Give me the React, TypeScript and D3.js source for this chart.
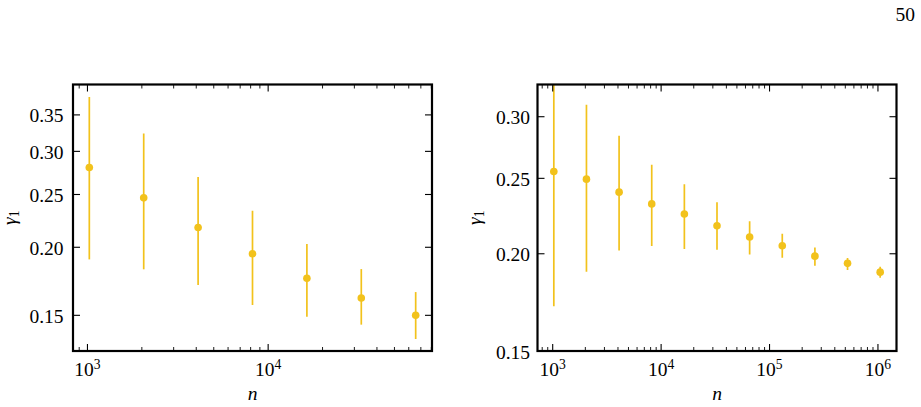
import React from "react";
import * as d3 from "d3";

// γ1 estimates vs. system size n with lower/upper error bounds, two runs
const N_LEFT = [1024, 2048, 4096, 8192, 16384, 32768, 65536];
const GAMMA_LEFT = [0.2802, 0.2465, 0.2175, 0.1946, 0.1754, 0.1614, 0.15];
const LOW_LEFT = [0.19, 0.1822, 0.1705, 0.1567, 0.1491, 0.1442, 0.1357];
const HIGH_LEFT = [0.3776, 0.3237, 0.2691, 0.2335, 0.2027, 0.1824, 0.1655];

const N_RIGHT = [1024, 2048, 4096, 8192, 16384, 32768, 65536, 131072, 262144, 524288, 1048576];
const GAMMA_RIGHT = [0.2551, 0.2494, 0.24, 0.2318, 0.225, 0.2173, 0.2102, 0.2048, 0.1986, 0.1944, 0.1894];
const LOW_RIGHT = [0.1712, 0.1896, 0.202, 0.2047, 0.2028, 0.2024, 0.1996, 0.1976, 0.193, 0.1906, 0.1863];
const HIGH_RIGHT = [0.339, 0.3109, 0.2836, 0.2602, 0.2457, 0.233, 0.2202, 0.2122, 0.2038, 0.1975, 0.1924];

const YTICKS_LEFT = [0.15, 0.2, 0.25, 0.3, 0.35];
const YTICKS_RIGHT = [0.15, 0.2, 0.25, 0.3];
const YDOMAIN_LEFT: [number, number] = [0.129, 0.398];
const YDOMAIN_RIGHT: [number, number] = [0.15, 0.33];

const PAGE_NUMBER = "50";

const COLOR = "#f2c21c";
const FS = 19.5;
const TEXT_STYLE: React.CSSProperties = {
  fontFamily: '"Liberation Serif", "DejaVu Serif", "Times New Roman", Times, serif',
  fontSize: FS,
};

type PanelProps = {
  id: string;
  x0: number;
  x1: number;
  y0: number;
  y1: number;
  ns: number[];
  vals: number[];
  lows: number[];
  highs: number[];
  yTicks: number[];
  yDomain: [number, number];
  labelGap: number;
  yLabelX: number;
};

// x limits: data range padded by 5% in log space
function logPadded(ns: number[]): [number, number] {
  const lo = Math.log10(d3.min(ns)!);
  const hi = Math.log10(d3.max(ns)!);
  const pad = (hi - lo) * 0.05;
  return [Math.pow(10, lo - pad), Math.pow(10, hi + pad)];
}

function Panel(p: PanelProps) {
  const xs = d3.scaleLog().domain(logPadded(p.ns)).range([p.x0, p.x1]);
  const ys = d3.scaleLog().domain(p.yDomain).range([p.y1, p.y0]);
  const [dlo, dhi] = xs.domain();
  const major: number[] = [];
  const minor: number[] = [];
  for (let e = Math.floor(Math.log10(dlo)); e <= Math.ceil(Math.log10(dhi)); e++) {
    for (let m = 1; m <= 9; m++) {
      const v = m * Math.pow(10, e);
      if (v < dlo || v > dhi) continue;
      (m === 1 ? major : minor).push(v);
    }
  }
  const majLen = 7;
  const minLen = 4;
  const cx = (p.x0 + p.x1) / 2;
  const cy = (p.y0 + p.y1) / 2;
  return (
    <g>
      <defs>
        <clipPath id={p.id}>
          <rect x={p.x0} y={p.y0} width={p.x1 - p.x0} height={p.y1 - p.y0} />
        </clipPath>
      </defs>
      <g clipPath={`url(#${p.id})`}>
        {p.ns.map((n, i) => (
          <g key={n}>
            <line
              x1={xs(n)}
              x2={xs(n)}
              y1={ys(p.lows[i])}
              y2={ys(p.highs[i])}
              stroke={COLOR}
              strokeWidth={1.7}
            />
            <circle cx={xs(n)} cy={ys(p.vals[i])} r={3.8} fill={COLOR} />
          </g>
        ))}
      </g>
      {/* inward ticks on all four sides */}
      {major.map((v) => (
        <g key={"M" + v} stroke="#000" strokeWidth={1.1}>
          <line x1={xs(v)} x2={xs(v)} y1={p.y1} y2={p.y1 - majLen} />
          <line x1={xs(v)} x2={xs(v)} y1={p.y0} y2={p.y0 + majLen} />
        </g>
      ))}
      {minor.map((v) => (
        <g key={"m" + v} stroke="#000" strokeWidth={0.9}>
          <line x1={xs(v)} x2={xs(v)} y1={p.y1} y2={p.y1 - minLen} />
          <line x1={xs(v)} x2={xs(v)} y1={p.y0} y2={p.y0 + minLen} />
        </g>
      ))}
      {p.yTicks.map((v) => (
        <g key={"y" + v} stroke="#000" strokeWidth={1.1}>
          <line x1={p.x0} x2={p.x0 + majLen} y1={ys(v)} y2={ys(v)} />
          <line x1={p.x1} x2={p.x1 - majLen} y1={ys(v)} y2={ys(v)} />
        </g>
      ))}
      <rect
        x={p.x0}
        y={p.y0}
        width={p.x1 - p.x0}
        height={p.y1 - p.y0}
        fill="none"
        stroke="#000"
        strokeWidth={2.2}
      />
      {p.yTicks.map((v) => (
        <text
          key={"yl" + v}
          x={p.x0 - p.labelGap}
          y={ys(v) + 7.5}
          textAnchor="end"
          style={TEXT_STYLE}
          fill="#000"
        >
          {d3.format(".2f")(v)}
        </text>
      ))}
      {major.map((v) => (
        <text
          key={"xl" + v}
          x={xs(v)}
          y={p.y1 + 25}
          textAnchor="middle"
          style={TEXT_STYLE}
          fill="#000"
        >
          10
          <tspan style={{ fontSize: FS * 0.7 }} dy={-7}>
            {Math.round(Math.log10(v))}
          </tspan>
        </text>
      ))}
      <text
        x={cx}
        y={p.y1 + 49}
        textAnchor="middle"
        style={{ ...TEXT_STYLE, fontStyle: "italic" }}
        fill="#000"
      >
        n
      </text>
      <text
        transform={`translate(${p.yLabelX},${cy}) rotate(-90)`}
        textAnchor="middle"
        style={TEXT_STYLE}
        fill="#000"
      >
        <tspan style={{ fontStyle: "italic" }}>γ</tspan>
        <tspan style={{ fontSize: FS * 0.7 }} dy={3}>
          1
        </tspan>
      </text>
    </g>
  );
}

export default function App() {
  return (
    <svg
      width={921}
      height={407}
      style={{ position: "absolute", left: 0, top: 0, background: "#fff" }}
    >
      <rect x={0} y={0} width={921} height={407} fill="#fff" />
      <text x={915} y={20.5} textAnchor="end" style={TEXT_STYLE} fill="#000">
        {PAGE_NUMBER}
      </text>
      <Panel
        id="clipL"
        x0={73}
        x1={432}
        y0={84.5}
        y1={351}
        ns={N_LEFT}
        vals={GAMMA_LEFT}
        lows={LOW_LEFT}
        highs={HIGH_LEFT}
        yTicks={YTICKS_LEFT}
        yDomain={YDOMAIN_LEFT}
        labelGap={9.5}
        yLabelX={16}
      />
      <Panel
        id="clipR"
        x0={537.5}
        x1={896.5}
        y0={84.5}
        y1={351}
        ns={N_RIGHT}
        vals={GAMMA_RIGHT}
        lows={LOW_RIGHT}
        highs={HIGH_RIGHT}
        yTicks={YTICKS_RIGHT}
        yDomain={YDOMAIN_RIGHT}
        labelGap={7.5}
        yLabelX={481}
      />
    </svg>
  );
}
